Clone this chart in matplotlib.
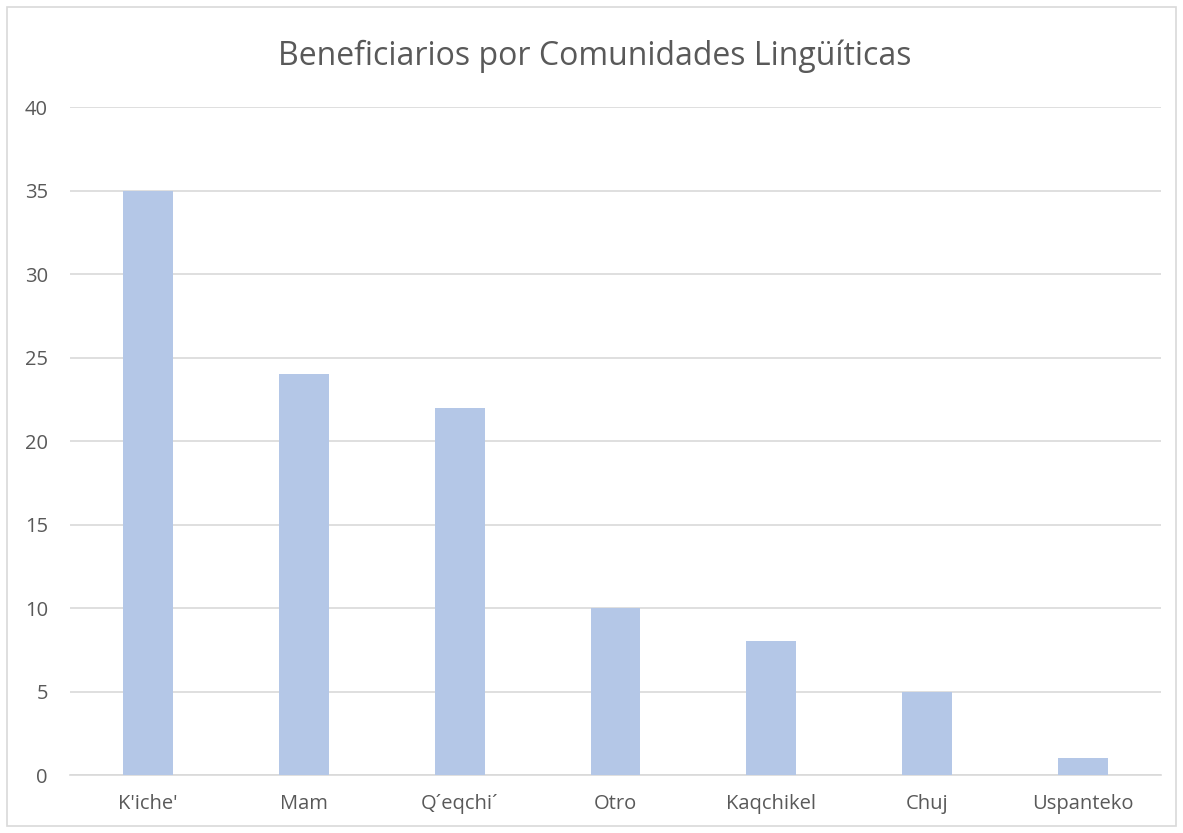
import matplotlib
matplotlib.use("Agg")
import matplotlib.pyplot as plt
from matplotlib.patches import Rectangle

categories = ["K'iche'", "Mam", "Q\u00b4eqchi\u00b4", "Otro", "Kaqchikel", "Chuj", "Uspanteko"]
values = [35, 24, 22, 10, 8, 5, 1]
yticks = [0, 5, 10, 15, 20, 25, 30, 35, 40]

text_color = "#595959"
grid_color = "#D9D9D9"
bar_color = "#B4C7E7"

plt.rcParams['font.family'] = ['Open Sans', 'DejaVu Sans']

fig = plt.figure(figsize=(11.83, 8.33), dpi=100)
ax = fig.add_axes([0.0592, 0.0696, 0.9222, 0.8019])

x = list(range(len(categories)))
ax.bar(x, values, width=0.32, color=bar_color, zorder=3)

ax.set_xlim(-0.5, len(categories) - 0.5)
ax.set_ylim(0, 40)
ax.set_yticks(yticks)
ax.set_xticks(x)
ax.set_xticklabels(categories)
ax.tick_params(axis='both', length=0, colors=text_color, labelsize=14.5)
ax.tick_params(axis='y', pad=16)
ax.tick_params(axis='x', pad=14)
ax.grid(axis='y', color=grid_color, linewidth=1.2, zorder=0)

for side in ['top', 'right', 'left']:
    ax.spines[side].set_visible(False)
ax.spines['bottom'].set_color(grid_color)
ax.spines['bottom'].set_linewidth(1.2)

fig.text(0.503, 0.933, "Beneficiarios por Comunidades Lingüíticas",
         ha='center', va='center', fontsize=23, color=text_color)

# chart border
fig.patches.append(Rectangle((0.006, 0.008), 0.988, 0.984, transform=fig.transFigure,
                             fill=False, edgecolor=grid_color, linewidth=1.2))

fig.savefig("out.png", dpi=100)
